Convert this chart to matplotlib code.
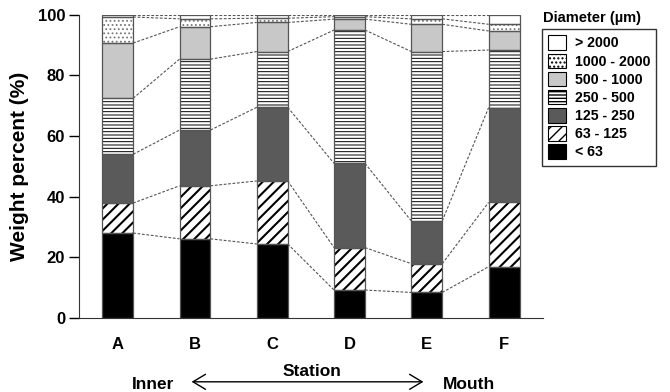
import numpy as np
import matplotlib.pyplot as plt
from matplotlib.patches import FancyArrowPatch, Rectangle

plt.rcParams['font.family'] = ['Liberation Sans', 'DejaVu Sans']
plt.rcParams['font.weight'] = 'bold'

# Grain size composition per station (weight %)
stations = ['A', 'B', 'C', 'D', 'E', 'F']
fr_lt63 = [28.0, 26.1, 24.4, 9.2, 8.4, 16.9]
fr_63_125 = [9.9, 17.5, 20.8, 14.0, 9.5, 21.2]
fr_125_250 = [16.1, 18.4, 24.3, 27.8, 14.1, 31.3]
fr_250_500 = [18.5, 23.4, 18.4, 44.0, 55.9, 19.0]
fr_500_1000 = [18.2, 10.7, 9.6, 3.6, 9.0, 6.3]
fr_1000_2000 = [8.6, 2.6, 1.4, 0.8, 1.8, 2.2]
fr_gt2000 = [0.7, 1.3, 1.1, 0.6, 1.3, 3.1]

labels = ['< 63', '63 - 125', '125 - 250', '250 - 500', '500 - 1000', '1000 - 2000', '> 2000']
series = [fr_lt63, fr_63_125, fr_125_250, fr_250_500, fr_500_1000, fr_1000_2000, fr_gt2000]

# face colour, hatch, hatch colour, hatch linewidth
styles = [
    ('black', '', 'black', 1.0),
    ('white', '///', 'black', 1.5),
    ('#5a5a5a', '', 'black', 1.0),
    ('white', '-----', 'black', 0.7),
    ('#c8c8c8', '', 'black', 1.0),
    ('white', '....', '#777777', 0.8),
    ('white', '', 'black', 1.0),
]

fig = plt.figure(figsize=(6.7, 3.92), dpi=100)
ax = fig.add_axes([0.118, 0.189, 0.692, 0.773])

x = np.arange(len(stations))
w = 0.40
bottom = np.zeros(len(stations))
tops = []
handles = []
for vals, lab, (fc, hatch, hc, hlw) in zip(series, labels, styles):
    vals = np.array(vals)
    with plt.rc_context({'hatch.linewidth': hlw}):
        ax.bar(x, vals, w, bottom=bottom, color=fc, hatch=hatch,
               edgecolor=hc, linewidth=0, zorder=2)
        h = Rectangle((0, 0), 1, 1, facecolor=fc, hatch=hatch,
                      edgecolor='black', linewidth=0.8)
    ax.bar(x, vals, w, bottom=bottom, fill=False, edgecolor='#555555',
           linewidth=0.9, zorder=3)
    handles.append(h)
    bottom = bottom + vals
    tops.append(bottom.copy())

# dashed lines joining the class boundaries of neighbouring stations
for t in tops:
    for i in range(len(stations) - 1):
        ax.plot([x[i] + w / 2, x[i + 1] - w / 2], [t[i], t[i + 1]],
                ls=(0, (2.5, 1.5)), color='#555555', lw=0.8, zorder=1)

ax.set_xlim(-0.5, 5.5)
ax.set_ylim(0, 100)
ax.set_yticks([0, 20, 40, 60, 80, 100])
ax.set_xticks(x)
ax.set_xticklabels(stations)
ax.tick_params(axis='x', length=0, pad=14, labelsize=12)
ax.tick_params(axis='y', length=7, width=1, direction='out', labelsize=12, pad=3)
for s in ['top', 'right']:
    ax.spines[s].set_visible(False)
ax.spines['left'].set_color('#333333')
ax.spines['bottom'].set_color('#333333')
ax.set_ylabel('Weight percent (%)', fontsize=15, fontweight='bold', labelpad=6)

# station axis caption with direction arrow
fig.text(0.466, 0.053, 'Station', ha='center', va='center', fontsize=12.5, fontweight='bold')
fig.text(0.197, 0.020, 'Inner', ha='left', va='center', fontsize=12.5, fontweight='bold')
fig.text(0.661, 0.020, 'Mouth', ha='left', va='center', fontsize=12.5, fontweight='bold')
fig.add_artist(FancyArrowPatch(
    (0.286, 0.026), (0.632, 0.026), transform=fig.transFigure,
    arrowstyle='<->,head_length=0.5,head_width=0.3', mutation_scale=18,
    lw=1.0, color='black', shrinkA=0, shrinkB=0))

fig.text(0.810, 0.953, 'Diameter (µm)', ha='left', va='center', fontsize=10.5, fontweight='bold')
leg = fig.legend(handles[::-1], labels[::-1], loc='upper left',
                 bbox_to_anchor=(0.809, 0.926), frameon=True, fancybox=False,
                 edgecolor='black', handlelength=1.25,
                 handleheight=1.2, handletextpad=0.6, labelspacing=0.22,
                 borderpad=0.45, borderaxespad=0,
                 prop={'weight': 'bold', 'size': 10.2})
leg.get_frame().set_linewidth(1.0)

fig.savefig('out.png', dpi=100)
